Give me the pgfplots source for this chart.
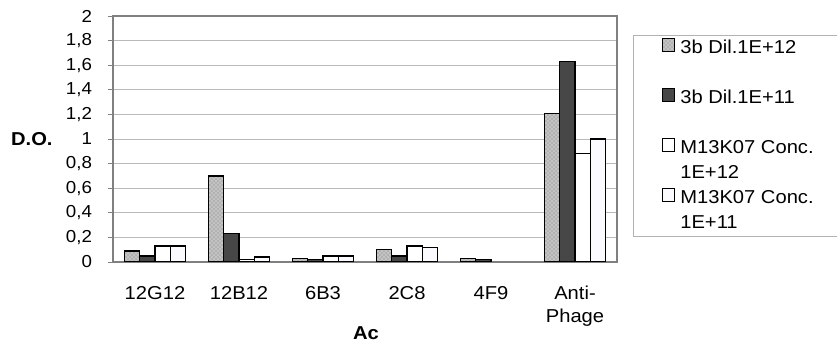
\documentclass[border=0pt]{standalone}
\usepackage{pgfplots}
\pgfplotsset{compat=1.18}
\usepackage{fontspec}
\setmainfont{Liberation Sans}[FakeStretch=1.08]
\usetikzlibrary{patterns}
\newcommand\fnt{\fontsize{14}{17}\selectfont}
\newcommand\yfnt{\fontsize{13}{15}\selectfont}
\begin{document}
\begin{tikzpicture}[font=\fnt]
\useasboundingbox (0,0) rectangle (627.75pt,261.75pt);
\begin{axis}[
  at={(84.75pt,65.25pt)}, anchor=south west,
  scale only axis, width=378pt, height=184.5pt,
  ymin=0, ymax=2,
  ytick={0,0.2,0.4,0.6,0.8,1,1.2,1.4,1.6,1.8,2},
  xmin=-0.5, xmax=5.5,
  xtick={0,1,2,3,4,5},
  xticklabels={12G12,12B12,6B3,2C8,4F9,{Anti-\\Phage}},
  xticklabel style={font=\fnt, align=center, yshift=-11pt},
  yticklabel style={font=\yfnt, xshift=-8.5pt},
  label style={font=\fnt},
  /pgf/number format/assume math mode=true,
  /pgf/number format/use comma,
  ymajorgrids, grid style={gray!55, line width=0.6pt},
  axis line style={gray, line width=0.8pt},
  tick align=outside, major tick length=3.75pt,
  ytick pos=left, ytick style={gray, line width=0.6pt},
  xtick style={draw=none},
  ybar=0pt, bar width=11.5pt,
  ylabel={\textbf{D.O.}},
  ylabel style={rotate=-90, at={(axis description cs:-0.161,0.5)}, anchor=center},
  xlabel={\textbf{Ac}},
  xlabel style={at={(axis description cs:0.502,-0.289)}, anchor=center},
  legend style={at={(axis description cs:1.032,0.923)}, anchor=north west,
    draw=gray!60, line width=0.6pt, inner xsep=21pt, inner ysep=0.5pt,
    font=\fnt, row sep=0pt,
    nodes={inner ysep=0pt, text height=13pt, text depth=5.75pt},
    /tikz/every odd column/.append style={column sep=2pt}},
  legend cell align=left,
  legend image code/.code={\draw[#1, line width=0.6pt] (0pt,-2.5pt) rectangle (9.5pt,7.5pt);},
]
\addplot[draw=black, line width=1pt, fill=gray!60, postaction={pattern=crosshatch dots, pattern color=white}]
  coordinates {(0,0.09) (1,0.70) (2,0.03) (3,0.10) (4,0.03) (5,1.21)};
\addlegendentry{3b Dil.1E+12}
\addlegendimage{empty legend}
\addlegendentry{}
\addplot[draw=black, line width=1pt, fill=black!72]
  coordinates {(0,0.05) (1,0.23) (2,0.02) (3,0.05) (4,0.02) (5,1.63)};
\addlegendentry{3b Dil.1E+11}
\addlegendimage{empty legend}
\addlegendentry{}
\addplot[draw=black, line width=1pt, fill=white]
  coordinates {(0,0.13) (1,0.02) (2,0.05) (3,0.13) (5,0.88)};
\addlegendentry{M13K07 Conc.}
\addlegendimage{empty legend}
\addlegendentry{1E+12}
\addplot[draw=black, line width=1pt, fill=blue!2]
  coordinates {(0,0.13) (1,0.04) (2,0.05) (3,0.12) (5,1.00)};
\addlegendentry{M13K07 Conc.}
\addlegendimage{empty legend}
\addlegendentry{1E+11}
\end{axis}
\end{tikzpicture}
\end{document}
